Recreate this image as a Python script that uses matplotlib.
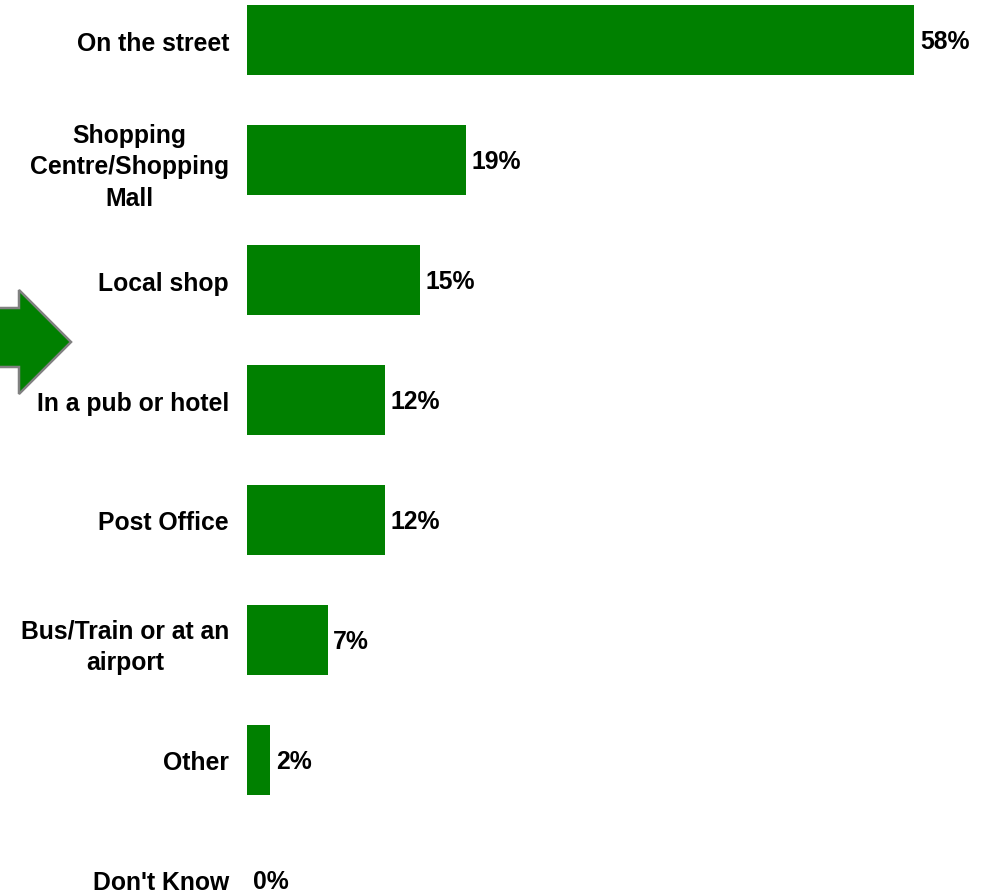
import matplotlib
matplotlib.use("Agg")
import matplotlib.pyplot as plt
from matplotlib.patches import Polygon

plt.rcParams['font.family'] = ['Liberation Sans', 'DejaVu Sans']

categories = [
    "On the street",
    "Shopping\nCentre/Shopping\nMall",
    "Local shop",
    "In a pub or hotel",
    "Post Office",
    "Bus/Train or at an\nairport",
    "Other",
    "Don't Know",
]
values = [58, 19, 15, 12, 12, 7, 2, 0]
value_labels = ["58%", "19%", "15%", "12%", "12%", "7%", "2%", "0%"]

W, H = 992, 895
fig = plt.figure(figsize=(W / 100, H / 100), dpi=100)
ax = fig.add_axes([247 / W, 0, (983 - 247) / W, 1])

ypos = list(range(len(categories)))
ax.barh(ypos, values, height=0.585, color="#008000", edgecolor="none")
ax.set_xlim(0, 64)
ax.set_ylim((H - 41) / 120, -41 / 120)

ax.set_yticks(ypos)
ax.set_yticklabels(categories, fontsize=17.8, fontweight="bold", ha="right",
                   multialignment="center", linespacing=1.42)
ax.tick_params(axis="y", length=0, pad=13)
ax.set_xticks([])
for s in ax.spines.values():
    s.set_visible(False)

for y, v, lab in zip(ypos, values, value_labels):
    ax.annotate(lab, (v, y), xytext=(4.2, -1), textcoords="offset points",
                ha="left", va="center", fontsize=17.8, fontweight="bold")

# block arrow pointing at the pub / hotel row
arrow_px = [(-5, 309), (19, 309), (19, 291), (71, 343), (19, 395), (19, 368), (-5, 368)]
arrow = Polygon([(x / W, 1 - y / H) for x, y in arrow_px], closed=True,
                transform=fig.transFigure, facecolor="#008000",
                edgecolor="#808080", linewidth=1.8, clip_on=False)
fig.patches.append(arrow)

fig.savefig("out.png", dpi=100)
